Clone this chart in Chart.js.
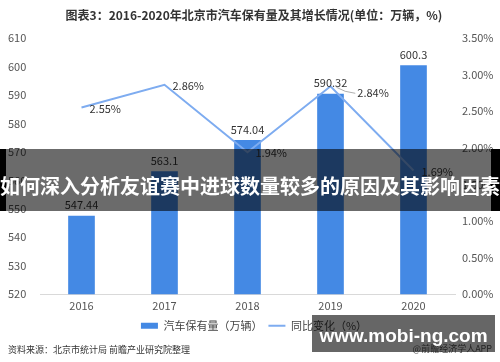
<!DOCTYPE html>
<html><head><meta charset="utf-8">
<script src="https://cdn.jsdelivr.net/npm/chart.js@4"></script>
<style>
html,body{margin:0;padding:0;background:#fff;}
#wrap{position:relative;width:500px;height:362px;overflow:hidden;}
canvas{display:block;}
.band{position:absolute;top:149px;height:62px;}
#bandMid{left:6px;width:485px;background:rgba(0,0,0,0.58);}
#bandL{left:0;width:6px;background:#000;}
#bandR{left:491px;width:9px;background:#000;}
#bandText{position:absolute;left:0;top:171px;width:500px;height:24px;line-height:24px;font:bold 20px "Noto Sans CJK SC",sans-serif;color:#fff;white-space:nowrap;}
#site{position:absolute;left:312px;top:315px;width:183px;height:37px;background:rgba(0,0,0,0.6);}
#siteText{position:absolute;left:312px;top:325px;width:183px;text-align:center;line-height:24px;font:bold 19px "Liberation Sans",Arial,sans-serif;color:#fff;white-space:nowrap;}
</style>
</head><body>
<div id="wrap">
<canvas id="c" width="500" height="362"></canvas>
<div class="band" id="bandMid"></div>
<div class="band" id="bandL"></div>
<div class="band" id="bandR"></div>
<div id="bandText">如何深入分析友谊赛中进球数量较多的原因及其影响因素</div>
<div id="site"></div>
<div id="siteText">www.mobi-ng.com</div>
</div>
<script>
const categories = ['2016', '2017', '2018', '2019', '2020'];
const vehicles = [547.44, 563.1, 574.04, 590.32, 600.3];
const growth = [2.55, 2.86, 1.94, 2.84, 1.69];
const leftTicks = [520, 530, 540, 550, 560, 570, 580, 590, 600, 610];
const rightTicks = [0, 0.5, 1, 1.5, 2, 2.5, 3, 3.5];
const seriesNames = ['汽车保有量（万辆）', '同比变化（%）'];
const titleText = '图表3：2016-2020年北京市汽车保有量及其增长情况(单位：万辆，%)';
const sourceText = '资料来源：北京市统计局 前瞻产业研究院整理';
const creditText = '@前瞻经济学人APP';

const FONT = '"Noto Sans CJK SC", "Noto Sans", sans-serif';
const BAR_COLOR = '#4489e4';
const LINE_COLOR = '#7eacf0';

const labelPlugin = {
  id: 'valueLabels',
  afterDatasetsDraw(chart) {
    const ctx = chart.ctx;
    const barMeta = chart.getDatasetMeta(0);
    const lineMeta = chart.getDatasetMeta(1);
    ctx.save();
    ctx.font = '11px ' + FONT;
    ctx.fillStyle = '#333';
    ctx.textBaseline = 'middle';
    ctx.textAlign = 'center';
    const rects = [];
    barMeta.data.forEach((bar, i) => {
      const t = String(vehicles[i]);
      const y = bar.y - 11;
      ctx.fillText(t, bar.x, y);
      const w = ctx.measureText(t).width;
      rects.push({l: bar.x - w / 2, r: bar.x + w / 2, t: y - 7, b: y + 7});
    });
    ctx.textAlign = 'left';
    lineMeta.data.forEach((pt, i) => {
      const t = growth[i].toFixed(2) + '%';
      const w = ctx.measureText(t).width;
      let x = pt.x + 8, y = pt.y + 1;
      const hit = rects.find(r => x < r.r && x + w > r.l && y - 7 < r.b && y + 7 > r.t);
      if (hit) {
        x = hit.r + 10; y = pt.y + 7;
        ctx.strokeStyle = '#999'; ctx.lineWidth = 0.8;
        ctx.beginPath(); ctx.moveTo(pt.x + 6, pt.y + 1);
        ctx.quadraticCurveTo(pt.x + 14, pt.y + 6, x - 2, y);
        ctx.stroke();
      }
      ctx.fillText(t, x, y);
    });
    ctx.font = '9px ' + FONT;
    ctx.fillStyle = '#555';
    ctx.textAlign = 'right';
    ctx.fillText(creditText, 492, 349);
    ctx.restore();
  }
};

new Chart(document.getElementById('c'), {
  data: {
    labels: categories,
    datasets: [
      {type: 'bar', label: seriesNames[0], data: vehicles, backgroundColor: BAR_COLOR, barThickness: 26, yAxisID: 'y', order: 1, pointStyle: 'rect', borderWidth: 0},
      {type: 'line', label: seriesNames[1], data: growth, borderColor: LINE_COLOR, backgroundColor: LINE_COLOR, borderWidth: 2, pointRadius: 0, pointHoverRadius: 0, tension: 0, yAxisID: 'y1', order: 0, pointStyle: 'line'}
    ]
  },
  options: {
    responsive: false,
    animation: false,
    layout: {padding: {left: 8, right: 0, top: 0, bottom: 0}},
    plugins: {
      title: {display: true, text: titleText, color: '#333', font: {family: FONT, size: 12, weight: 'bold'}, padding: {top: 8, bottom: 15.6}},
      subtitle: {display: true, position: 'bottom', align: 'start', text: sourceText, color: '#333', font: {family: FONT, size: 9}, padding: {top: 3, bottom: 7}},
      legend: {
        position: 'bottom',
        labels: {
          usePointStyle: true, pointStyleWidth: 17, boxHeight: 6, padding: 6,
          color: '#444', font: {family: FONT, size: 11},
          sort: (a, b) => a.datasetIndex - b.datasetIndex
        }
      },
      tooltip: {enabled: false}
    },
    scales: {
      x: {
        grid: {display: false, drawTicks: false},
        border: {display: true, color: '#d9d9d9'},
        ticks: {color: '#555', font: {family: FONT, size: 11}, padding: 5},
        afterFit(s) { s.height = 20; }
      },
      y: {
        position: 'left',
        min: leftTicks[0], max: leftTicks[leftTicks.length - 1],
        afterBuildTicks(s) { s.ticks = leftTicks.map(v => ({value: v})); },
        grid: {display: false, drawTicks: false},
        border: {display: false},
        ticks: {color: '#555', font: {family: FONT, size: 11}, crossAlign: 'far', padding: 8},
        afterFit(s) { s.width = 32; }
      },
      y1: {
        position: 'right',
        min: rightTicks[0], max: rightTicks[rightTicks.length - 1],
        afterBuildTicks(s) { s.ticks = rightTicks.map(v => ({value: v})); },
        grid: {display: false, drawTicks: false},
        border: {display: false},
        ticks: {color: '#555', font: {family: FONT, size: 11}, padding: 7, callback: v => v.toFixed(2) + '%'},
        afterFit(s) { s.width = 45; }
      }
    }
  },
  plugins: [labelPlugin]
});
</script>
</body></html>
